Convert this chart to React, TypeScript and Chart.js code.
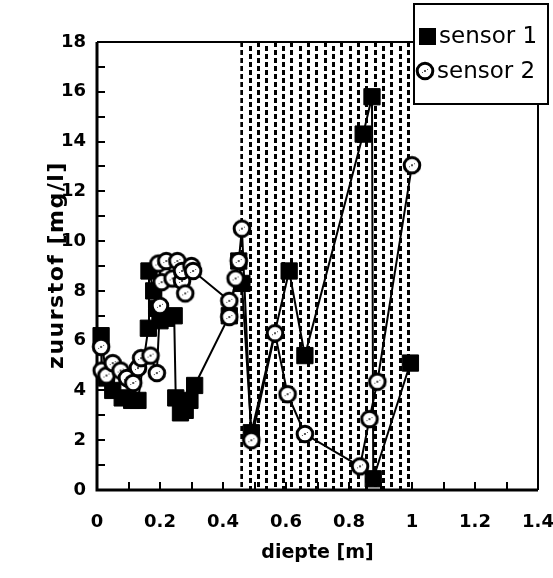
import { useEffect, useRef } from 'react';
import { Chart, registerables } from 'chart.js';

Chart.register(...registerables);

// ---- data ----
const sensor1Depth = [0.013, 0.03, 0.05, 0.08, 0.11, 0.13, 0.163, 0.165, 0.18, 0.19, 0.2, 0.22, 0.245, 0.25, 0.265, 0.28, 0.295, 0.31, 0.42, 0.45, 0.46, 0.49, 0.61, 0.66, 0.845, 0.873, 0.877, 0.995];
const sensor1Oxygen = [6.2, 4.5, 4.0, 3.7, 3.6, 3.6, 6.5, 8.8, 8.0, 7.3, 6.8, 6.9, 7.0, 3.7, 3.1, 3.2, 3.6, 4.2, 7.0, 9.2, 8.3, 2.3, 8.8, 5.4, 14.3, 15.8, 0.45, 5.1];

const sensor2Depth = [0.013, 0.015, 0.03, 0.05, 0.075, 0.095, 0.115, 0.13, 0.14, 0.17, 0.19, 0.2, 0.205, 0.195, 0.22, 0.24, 0.255, 0.27, 0.28, 0.27, 0.3, 0.305, 0.42, 0.42, 0.44, 0.45, 0.46, 0.49, 0.565, 0.605, 0.66, 0.835, 0.865, 0.89, 1.0];
const sensor2Oxygen = [5.75, 4.8, 4.6, 5.1, 4.8, 4.5, 4.3, 4.9, 5.3, 5.4, 4.7, 7.4, 8.35, 9.1, 9.2, 8.5, 9.2, 8.4, 7.9, 8.8, 9.0, 8.8, 7.6, 6.95, 8.5, 9.2, 10.5, 2.0, 6.3, 3.85, 2.25, 0.95, 2.85, 4.35, 13.05];

const xTickLabels = ['0', '0.2', '0.4', '0.6', '0.8', '1', '1.2', '1.4'];
const yTickLabels = ['0', '2', '4', '6', '8', '10', '12', '14', '16', '18'];
const seriesNames = ['sensor 1', 'sensor 2'];
const xTitle = 'diepte [m]';
const yTitle = 'zuurstof [mg/l]';
const shadedZone = [0.455, 0.995];

function makeCircleMarker(): HTMLCanvasElement {
  const c = document.createElement('canvas');
  c.width = 22;
  c.height = 22;
  const g = c.getContext('2d')!;
  g.beginPath();
  g.arc(11, 11, 7.8, 0, Math.PI * 2);
  g.fillStyle = '#fff';
  g.fill();
  g.lineWidth = 3;
  g.strokeStyle = '#000';
  g.stroke();
  g.fillStyle = '#555';
  g.fillRect(10, 10, 2, 2);
  g.fillRect(8, 12, 1, 1);
  g.fillRect(13, 9, 1, 1);
  return c;
}

export default function App() {
  const ref = useRef<HTMLCanvasElement>(null);

  useEffect(() => {
    const circle = makeCircleMarker();
    const fam = '"DejaVu Sans", sans-serif';
    const axisFont = { family: fam, size: 18, weight: 'bold' as const };

    const decor = {
      id: 'decor',
      beforeDatasetsDraw(chart: any) {
        const { ctx, chartArea: a, scales } = chart;
        const x = scales.x, y = scales.y;
        // shaded zone
        const l = x.getPixelForValue(shadedZone[0]);
        const r = x.getPixelForValue(shadedZone[1]);
        ctx.save();
        ctx.beginPath();
        ctx.rect(l, a.top, r - l, a.bottom - a.top);
        ctx.clip();
        ctx.fillStyle = '#000';
        let col = 0;
        for (let px = l; px < r; px += 8.33, col++) {
          const off = (col % 2) * 4;
          for (let py = a.top - 8 + off; py < a.bottom; py += 8) {
            ctx.fillRect(Math.round(px), py, 3, 5);
          }
        }
        ctx.restore();
        // frame
        ctx.save();
        ctx.strokeStyle = '#000';
        ctx.lineWidth = 2;
        ctx.beginPath();
        ctx.moveTo(a.left, a.top);
        ctx.lineTo(a.right, a.top);
        ctx.lineTo(a.right, a.bottom);
        ctx.stroke();
        ctx.lineWidth = 3;
        ctx.beginPath();
        ctx.moveTo(a.left, a.top);
        ctx.lineTo(a.left, a.bottom);
        ctx.lineTo(a.right, a.bottom);
        ctx.stroke();
        // inner ticks
        ctx.lineWidth = 2;
        ctx.beginPath();
        for (let i = 1; i < 14; i++) {
          const px = Math.round(x.getPixelForValue(i * 0.1));
          ctx.moveTo(px, a.bottom);
          ctx.lineTo(px, a.bottom - 8);
        }
        for (let i = 1; i < 18; i++) {
          const py = Math.round(y.getPixelForValue(i));
          ctx.moveTo(a.left, py);
          ctx.lineTo(a.left + 8, py);
        }
        ctx.stroke();
        ctx.restore();
      },
      afterDraw(chart: any) {
        const { ctx, chartArea: a } = chart;
        // y title
        ctx.save();
        ctx.translate(57, (a.top + a.bottom) / 2);
        ctx.rotate(-Math.PI / 2);
        ctx.font = `bold 22px ${fam}`;
        (ctx as any).letterSpacing = '1.5px';
        ctx.textAlign = 'center';
        ctx.textBaseline = 'middle';
        ctx.fillStyle = '#000';
        ctx.fillText(yTitle, 1, 0);
        ctx.restore();
        // legend
        ctx.save();
        ctx.fillStyle = '#fff';
        ctx.fillRect(413, 3, 136, 102);
        ctx.strokeStyle = '#000';
        ctx.lineWidth = 2;
        ctx.strokeRect(414, 4, 134, 100);
        ctx.fillStyle = '#000';
        ctx.fillRect(419, 28, 17, 17);
        ctx.drawImage(circle, 425 - 11, 71 - 11);
        ctx.font = `23px ${fam}`;
        ctx.textBaseline = 'middle';
        ctx.textAlign = 'left';
        ctx.fillText(seriesNames[0], 439, 37);
        ctx.fillText(seriesNames[1], 437, 72);
        ctx.restore();
      },
    };

    const chart = new Chart(ref.current!, {
      type: 'line',
      data: {
        datasets: [
          {
            label: seriesNames[0],
            data: sensor1Depth.map((d, i) => ({ x: d, y: sensor1Oxygen[i] })),
            borderColor: '#000',
            borderWidth: 2,
            backgroundColor: '#000',
            pointStyle: 'rect',
            pointRadius: 11.5,
            pointBorderWidth: 1,
            pointBorderColor: '#000',
            pointBackgroundColor: '#000',
            clip: false,
            order: 1,
            tension: 0,
          },
          {
            label: seriesNames[1],
            data: sensor2Depth.map((d, i) => ({ x: d, y: sensor2Oxygen[i] })),
            borderColor: '#000',
            borderWidth: 2,
            backgroundColor: '#fff',
            pointStyle: circle,
            pointRadius: 10,
            clip: false,
            order: 0,
            tension: 0,
          },
        ],
      },
      options: {
        animation: false,
        responsive: false,
        devicePixelRatio: 1,
        layout: { padding: { left: 0, right: 15, top: 42, bottom: 0 } },
        plugins: { legend: { display: false }, tooltip: { enabled: false } },
        scales: {
          x: {
            type: 'linear',
            min: 0,
            max: 1.4,
            grid: { display: false, drawTicks: false },
            border: { display: false },
            ticks: {
              stepSize: 0.2,
              color: '#000',
              font: axisFont,
              padding: 22,
              maxRotation: 0,
              callback: (_v: any, i: number) => xTickLabels[i],
            },
            title: {
              display: true,
              text: xTitle,
              color: '#000',
              font: { family: fam, size: 19, weight: 'bold' },
              padding: { top: 0, bottom: 14 },
            },
            afterFit: (s: any) => {
              s.height = 88;
              s.paddingLeft = 0;
              s.paddingRight = 0;
            },
          },
          y: {
            type: 'linear',
            min: 0,
            max: 18,
            grid: { display: false, drawTicks: false },
            border: { display: false },
            ticks: {
              stepSize: 2,
              color: '#000',
              font: axisFont,
              padding: 11,
              callback: (_v: any, i: number) => yTickLabels[i],
            },
            title: { display: false },
            afterFit: (s: any) => {
              s.width = 97;
              s.paddingTop = 0;
              s.paddingBottom = 0;
            },
          },
        },
      },
      plugins: [decor],
    } as any);

    return () => chart.destroy();
  }, []);

  return (
    <div style={{ position: 'absolute', left: 0, top: 0, width: 553, height: 578, background: '#fff' }}>
      <canvas ref={ref} width={553} height={578} style={{ display: 'block' }} />
    </div>
  );
}
